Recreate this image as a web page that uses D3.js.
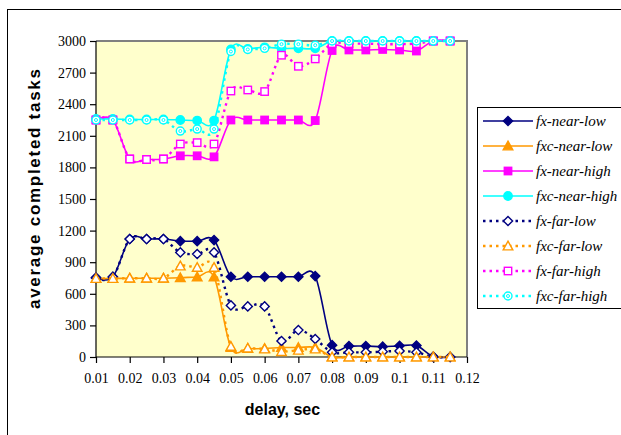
<!DOCTYPE html>
<html>
<head>
<meta charset="utf-8">
<script src="https://cdn.jsdelivr.net/npm/d3@7"></script>
<style>
  html, body { margin: 0; padding: 0; background: #ffffff; }
  svg { display: block; }
</style>
</head>
<body>
<svg id="chart" width="621" height="435"></svg>
<script>
// Delay values on the x axis (seconds)
const delays = [0.01, 0.015, 0.02, 0.025, 0.03, 0.035, 0.04, 0.045, 0.05, 0.055, 0.06,
                0.065, 0.07, 0.075, 0.08, 0.085, 0.09, 0.095, 0.1, 0.105, 0.11, 0.115];

// Average completed tasks per configuration
const fxNearLow   = [755, 760, 1120, 1120, 1120, 1100, 1100, 1110, 762, 762, 762, 762, 762, 768, 112, 104, 104, 98, 106, 108, 5, 0];
const fxcNearLow  = [745, 745, 748, 748, 748, 752, 760, 760, 90, 80, 80, 90, 90, 90, 0, 0, 0, 0, 0, 0, 0, 0];
const fxNearHigh  = [2250, 2250, 1880, 1875, 1880, 1910, 1910, 1900, 2250, 2250, 2250, 2250, 2250, 2245, 2910, 2915, 2915, 2920, 2915, 2905, 3000, 3000];
const fxcNearHigh = [2260, 2260, 2255, 2255, 2255, 2250, 2245, 2245, 2920, 2925, 2940, 2930, 2930, 2930, 3000, 3000, 3000, 3000, 3000, 3000, 3000, 3000];
const fxFarLow    = [750, 760, 1120, 1120, 1120, 993, 978, 993, 490, 480, 480, 152, 256, 171, 44, 44, 44, 51, 57, 44, 0, 0];
const fxcFarLow   = [745, 745, 748, 748, 748, 864, 850, 850, 100, 84, 76, 51, 64, 76, 0, 0, 0, 0, 0, 0, 0, 0];
const fxFarHigh   = [2250, 2250, 1880, 1875, 1880, 2022, 2035, 2022, 2525, 2535, 2520, 2865, 2760, 2830, 2975, 2975, 2975, 2970, 2970, 2975, 3000, 3000];
const fxcFarHigh  = [2250, 2250, 2250, 2250, 2250, 2145, 2164, 2164, 2900, 2920, 2930, 2970, 2970, 2960, 3000, 3000, 3000, 3000, 3000, 3000, 3000, 3000];

// Axis ticks
const xTicks = [0.01, 0.02, 0.03, 0.04, 0.05, 0.06, 0.07, 0.08, 0.09, 0.1, 0.11, 0.12];
const yTicks = [0, 300, 600, 900, 1200, 1500, 1800, 2100, 2400, 2700, 3000];

const series = [
  { name: "fx-near-low",   values: fxNearLow,   color: "#000080", dashed: false, marker: "diamond",  filled: true },
  { name: "fxc-near-low",  values: fxcNearLow,  color: "#FF9900", dashed: false, marker: "triangle", filled: true },
  { name: "fx-near-high",  values: fxNearHigh,  color: "#FF00FF", dashed: false, marker: "square",   filled: true },
  { name: "fxc-near-high", values: fxcNearHigh, color: "#00FFFF", dashed: false, marker: "circle",   filled: true },
  { name: "fx-far-low",    values: fxFarLow,    color: "#000080", dashed: true,  marker: "diamond",  filled: false },
  { name: "fxc-far-low",   values: fxcFarLow,   color: "#FF9900", dashed: true,  marker: "triangle", filled: false },
  { name: "fx-far-high",   values: fxFarHigh,   color: "#FF00FF", dashed: true,  marker: "square",   filled: false },
  { name: "fxc-far-high",  values: fxcFarHigh,  color: "#00FFFF", dashed: true,  marker: "ring",     filled: false }
];

const SERIF = "Liberation Serif";
const SANS = "Liberation Sans";

const svg = d3.select("#chart");

// Outer chart frame (runs off the right and bottom edges)
svg.append("rect")
  .attr("x", 7.5).attr("y", 9.5)
  .attr("width", 640).attr("height", 460)
  .attr("fill", "#ffffff").attr("stroke", "#000000").attr("stroke-width", 1);

const plot = { left: 96, right: 467, top: 41, bottom: 357 };

const x = d3.scaleLinear().domain([0.01, 0.12]).range([plot.left, plot.right]);
const y = d3.scaleLinear().domain([0, 3000]).range([plot.bottom, plot.top]);

// Plot area
svg.append("rect")
  .attr("x", plot.left).attr("y", plot.top)
  .attr("width", plot.right - plot.left).attr("height", plot.bottom - plot.top)
  .attr("fill", "#FFFFCC");
svg.append("path")
  .attr("d", `M${plot.left},${plot.top}H${plot.right}V${plot.bottom}`)
  .attr("fill", "none").attr("stroke", "#808080").attr("stroke-width", 2);

// Axes
const yAxis = d3.axisLeft(y).tickValues(yTicks).tickSize(6).tickPadding(4).tickFormat(d3.format("d"));
const xAxis = d3.axisBottom(x).tickValues(xTicks).tickSize(6).tickPadding(10).tickFormat(d => String(+d.toFixed(3)));

const gy = svg.append("g").attr("transform", `translate(${plot.left},0)`).call(yAxis);
const gx = svg.append("g").attr("transform", `translate(0,${plot.bottom})`).call(xAxis);

[gx, gy].forEach(g => {
  g.attr("font-family", SERIF).attr("font-size", 14);
  g.select(".domain").attr("stroke", "#000").attr("stroke-width", 1.2);
  g.selectAll(".tick line").attr("stroke", "#000").attr("stroke-width", 1.2);
  g.selectAll(".tick text")
    .attr("fill", "#000")
    .style("font-family", SERIF)
    .style("font-size", "14px");
});
gy.select(".domain").attr("d", `M0,${plot.top}V${plot.bottom}`);
gx.select(".domain").attr("d", `M${plot.left},0H${plot.right}`);

// Axis titles
svg.append("text")
  .attr("x", (plot.left + plot.right) / 2 + 1)
  .attr("y", 415)
  .attr("text-anchor", "middle")
  .style("font-family", SANS)
  .style("font-weight", "bold")
  .style("font-size", "16px")
  .text("delay, sec");

svg.append("text")
  .attr("transform", `translate(40,${(68 + 310) / 2}) rotate(-90)`)
  .attr("text-anchor", "middle")
  .attr("textLength", 240)
  .attr("lengthAdjust", "spacing")
  .style("font-family", SANS)
  .style("font-weight", "bold")
  .style("font-size", "17px")
  .text("average completed tasks");

// Marker drawing
function drawMarker(g, s, cx, cy) {
  const fill = s.filled ? s.color : "#ffffff";
  const sw = 1.4;
  if (s.marker === "diamond") {
    const r = 4.6;
    g.append("path").attr("d", `M${cx},${cy - r}L${cx + r},${cy}L${cx},${cy + r}L${cx - r},${cy}Z`)
      .attr("fill", fill).attr("stroke", s.color).attr("stroke-width", sw);
  } else if (s.marker === "triangle") {
    const r = 4.8;
    g.append("path").attr("d", `M${cx},${cy - r}L${cx + r},${cy + r * 0.8}L${cx - r},${cy + r * 0.8}Z`)
      .attr("fill", fill).attr("stroke", s.color).attr("stroke-width", sw);
  } else if (s.marker === "square") {
    const r = 3.7;
    g.append("rect").attr("x", cx - r).attr("y", cy - r).attr("width", 2 * r).attr("height", 2 * r)
      .attr("fill", fill).attr("stroke", s.color).attr("stroke-width", sw);
  } else if (s.marker === "circle") {
    g.append("circle").attr("cx", cx).attr("cy", cy).attr("r", 4.2)
      .attr("fill", fill).attr("stroke", s.color).attr("stroke-width", sw);
  } else if (s.marker === "ring") {
    g.append("circle").attr("cx", cx).attr("cy", cy).attr("r", 4)
      .attr("fill", "#ffffff").attr("stroke", s.color).attr("stroke-width", sw);
    g.append("circle").attr("cx", cx).attr("cy", cy).attr("r", 1.5)
      .attr("fill", "none").attr("stroke", s.color).attr("stroke-width", 1);
  }
}

const line = d3.line()
  .x((d, i) => x(delays[i]))
  .y(d => y(d))
  .curve(d3.curveCatmullRom.alpha(0));

const marks = svg.append("g");
series.forEach(s => {
  const g = marks.append("g");
  g.append("path")
    .attr("d", line(s.values))
    .attr("fill", "none")
    .attr("stroke", s.color)
    .attr("stroke-width", s.dashed ? 2.4 : 1.6)
    .attr("stroke-dasharray", s.dashed ? "2.5,4" : null);
  s.values.forEach((v, i) => drawMarker(g, s, x(delays[i]), y(v)));
});

// Legend
const legend = svg.append("g");
legend.append("rect")
  .attr("x", 477.5).attr("y", 107.5)
  .attr("width", 160).attr("height", 201)
  .attr("fill", "#ffffff").attr("stroke", "#000000").attr("stroke-width", 1);

series.forEach((s, i) => {
  const ly = 121 + i * 25;
  const g = legend.append("g");
  g.append("line")
    .attr("x1", 483).attr("x2", 533).attr("y1", ly).attr("y2", ly)
    .attr("stroke", s.color)
    .attr("stroke-width", s.dashed ? 2.4 : 1.6)
    .attr("stroke-dasharray", s.dashed ? "2.5,4" : null);
  drawMarker(g, s, 508, ly);
  g.append("text")
    .attr("x", 536).attr("y", ly + 5)
    .style("font-family", SERIF)
    .style("font-style", "italic")
    .style("font-size", "15px")
    .text(s.name);
});
</script>
</body>
</html>
